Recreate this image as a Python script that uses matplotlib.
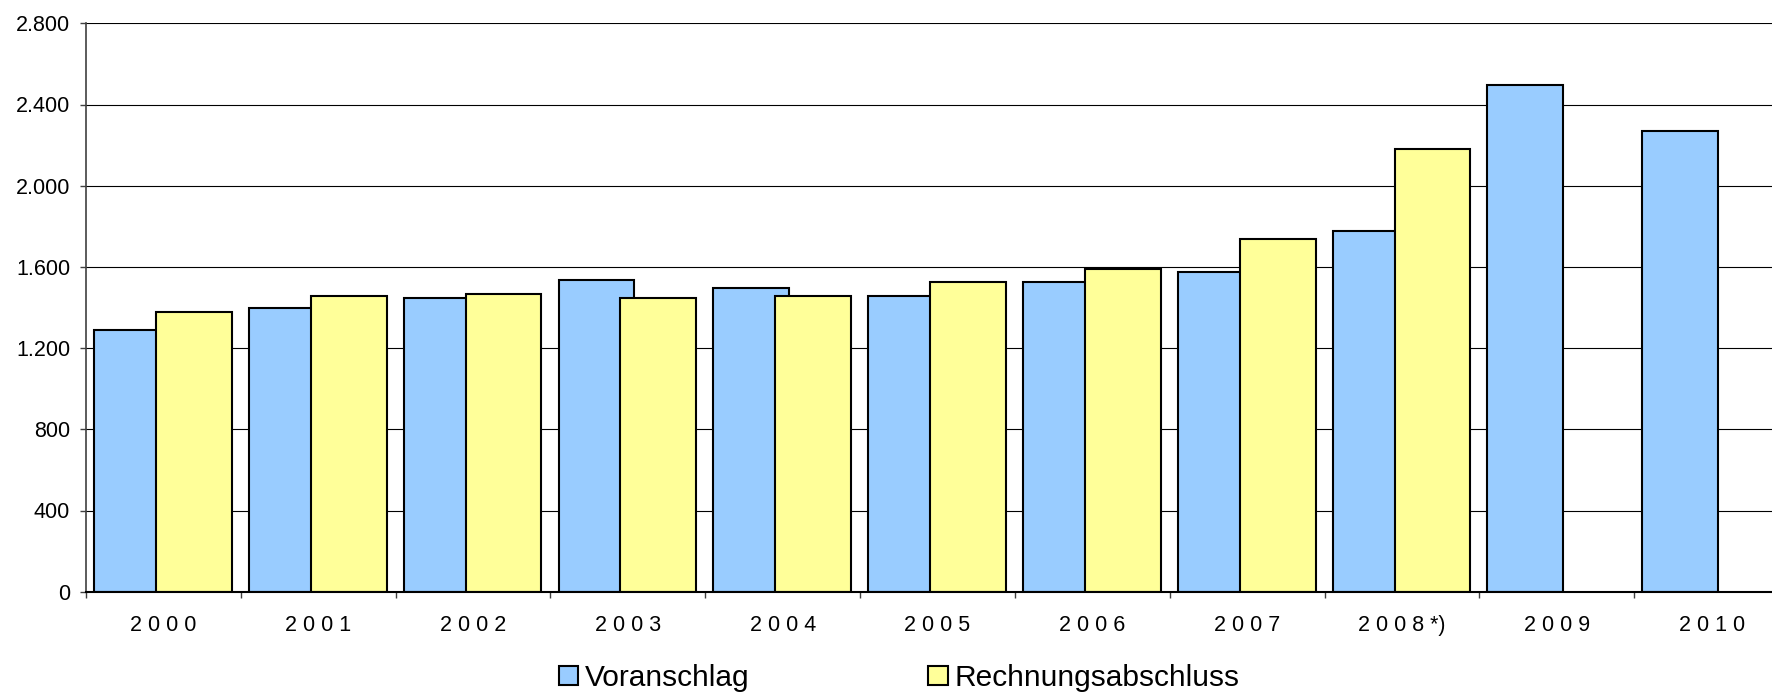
import numpy as np
import matplotlib.pyplot as plt

# Daten
jahre = ["2 0 0 0", "2 0 0 1", "2 0 0 2", "2 0 0 3", "2 0 0 4", "2 0 0 5",
         "2 0 0 6", "2 0 0 7", "2 0 0 8 *)", "2 0 0 9", "2 0 1 0"]
voranschlag = [1289, 1396, 1445, 1534, 1495, 1455, 1524, 1573, 1778, 2498, 2271]
rechnungsabschluss = [1376, 1457, 1465, 1445, 1455, 1524, 1591, 1739, 2182,
                      np.nan, np.nan]
y_ticks = [0, 400, 800, 1200, 1600, 2000, 2400, 2800]
y_labels = ["0", "400", "800", "1.200", "1.600", "2.000", "2.400", "2.800"]

plt.rcParams["font.family"] = ["Liberation Sans", "DejaVu Sans"]

fig = plt.figure(figsize=(17.72, 6.94), dpi=100)
# rechter Rand absichtlich ausserhalb des Bildes (wie im Original abgeschnitten)
ax = fig.add_axes([86 / 1772, 102.3 / 694, 1703 / 1772, 568.4 / 694])

x = np.arange(len(jahre))
breite = 0.49
ax.bar(x - 0.203, voranschlag, breite, color="#99CCFF", edgecolor="black",
       linewidth=1.5, label="Voranschlag", zorder=3)
ax.bar(x + 0.197, rechnungsabschluss, breite, color="#FFFF99", edgecolor="black",
       linewidth=1.5, label="Rechnungsabschluss", zorder=4)

ax.set_xlim(-0.5, len(jahre) - 0.5)
ax.set_ylim(0, 2800)

# y-Achse
ax.set_yticks(y_ticks)
ax.set_yticklabels(y_labels, fontsize=15.5)
ax.tick_params(axis="y", length=4.5, width=1, color="#404040", pad=7)
ax.grid(axis="y", color="black", linewidth=0.8, zorder=0)

# x-Achse: Striche an den Kategoriegrenzen, Beschriftung in der Mitte
ax.set_xticks(np.arange(-0.5, len(jahre), 1.0))
ax.set_xticklabels([])
ax.tick_params(axis="x", which="major", length=4, width=1, color="#404040")
ax.set_xticks(x, minor=True)
ax.set_xticklabels(jahre, minor=True, fontsize=15.5)
ax.tick_params(axis="x", which="minor", length=0, pad=17)

for s in ["top", "right"]:
    ax.spines[s].set_visible(False)
ax.spines["left"].set_color("#404040")
ax.spines["left"].set_linewidth(1.2)
ax.spines["bottom"].set_color("black")
ax.spines["bottom"].set_linewidth(1.5)
ax.spines["bottom"].set_zorder(5)

leg = fig.legend(loc="center", bbox_to_anchor=(899 / 1772, 16 / 694), ncol=2,
                 frameon=False, handlelength=0.64, handleheight=0.64,
                 handletextpad=0.23, columnspacing=6.0, fontsize=21.5)

plt.savefig("out.png", dpi=100)
